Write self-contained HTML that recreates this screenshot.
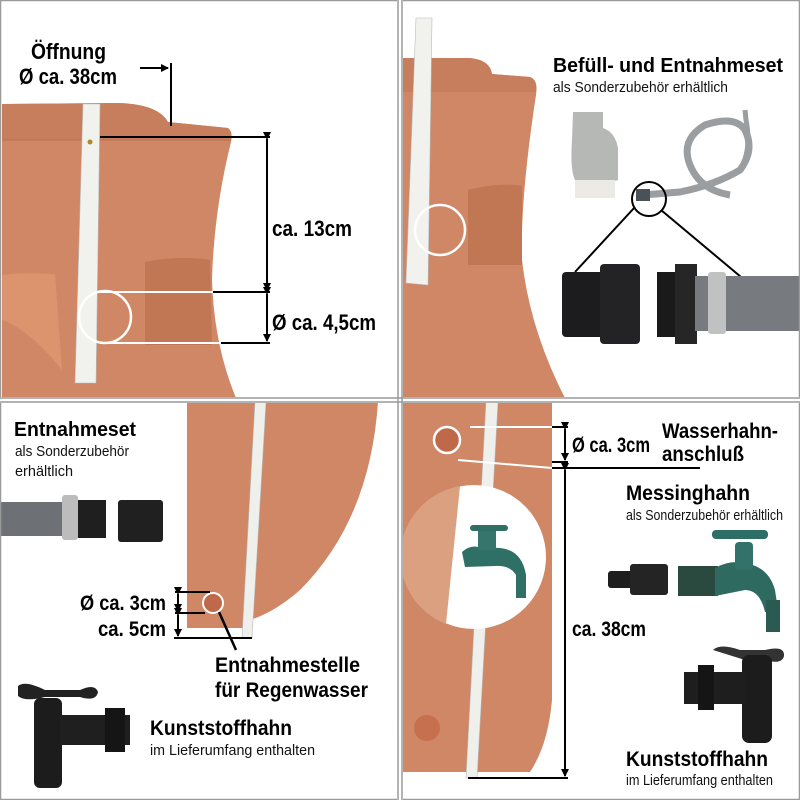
<!DOCTYPE html>
<html><head><meta charset="utf-8"><style>
html,body{margin:0;padding:0;background:#fff}
svg{display:block}
.b{font-family:"Liberation Sans Narrow","Liberation Sans",sans-serif;font-weight:bold;fill:#000}
.r{font-family:"Liberation Sans Narrow","Liberation Sans",sans-serif;fill:#111}
</style></head><body>
<svg width="800" height="800" viewBox="0 0 800 800" xmlns="http://www.w3.org/2000/svg">
<defs>
<marker id="ar" markerWidth="8" markerHeight="8" refX="7" refY="4" orient="auto" markerUnits="userSpaceOnUse"><path d="M0,0 L8,4 L0,8 z" fill="#000"/></marker>
</defs>
<rect width="800" height="800" fill="#fff"/>

<!-- ===== Q1 ===== -->
<path d="M2,104 L118,103 Q158,104 168,122 L228,128 Q233,132 231,142 Q214,210 212,280 Q214,345 236,398 L2,398 Z" fill="#cf8766"/>
<path d="M2,104 L118,103 Q158,104 168,122 L228,128 Q233,132 231,140 L2,140 Z" fill="#c77e5d"/>
<path d="M2,140 L231,140" stroke="#b87052" stroke-width="1"/>
<path d="M2,275 Q20,272 55,274 L62,370 Q30,330 2,320 Z" fill="#dc946f"/>
<path d="M145,262 Q180,255 210,260 L212,345 L145,345 Z" fill="#c17654"/>
<polygon points="83,104 100,104 96,383 75,383" fill="#f1f1ee" stroke="#bbb" stroke-width="0.6"/>
<circle cx="90" cy="142" r="2.5" fill="#b08a20"/>
<line x1="100" y1="137" x2="270" y2="137" stroke="#000" stroke-width="2"/>
<line x1="267" y1="139" x2="267" y2="290" stroke="#000" stroke-width="2" marker-start="url(#ar)" marker-end="url(#ar)"/>
<line x1="213" y1="292" x2="270" y2="292" stroke="#000" stroke-width="2"/>
<line x1="221" y1="343" x2="270" y2="343" stroke="#000" stroke-width="2"/>
<line x1="267" y1="294" x2="267" y2="341" stroke="#000" stroke-width="2" marker-start="url(#ar)" marker-end="url(#ar)"/>
<line x1="100" y1="292" x2="213" y2="292" stroke="#fff" stroke-width="2"/>
<line x1="100" y1="343" x2="221" y2="343" stroke="#fff" stroke-width="2"/>
<circle cx="105" cy="317" r="26" fill="none" stroke="#fff" stroke-width="2.5"/>
<text class="b" x="31" y="59" font-size="22" textLength="75" lengthAdjust="spacingAndGlyphs">Öffnung</text>
<text class="b" x="19" y="84" font-size="22" textLength="98" lengthAdjust="spacingAndGlyphs">Ø ca. 38cm</text>
<line x1="140" y1="68" x2="168" y2="68" stroke="#000" stroke-width="2" marker-end="url(#ar)"/>
<line x1="171" y1="63" x2="171" y2="126" stroke="#000" stroke-width="2"/>
<text class="b" x="272" y="236" font-size="22" textLength="80" lengthAdjust="spacingAndGlyphs">ca. 13cm</text>
<text class="b" x="272" y="330" font-size="22" textLength="104" lengthAdjust="spacingAndGlyphs">Ø ca. 4,5cm</text>

<!-- ===== Q2 ===== -->
<path d="M402,58 L470,58 Q490,60 492,74 L530,77 Q538,80 536,95 Q520,200 522,260 Q530,330 565,398 L402,398 Z" fill="#cf8766"/>
<path d="M402,58 L470,58 Q490,60 492,74 L530,77 Q538,80 536,92 L402,92 Z" fill="#c77e5d"/>
<path d="M468,190 Q500,182 522,186 L522,265 L468,265 Z" fill="#c17654"/>
<polygon points="416,18 432,18 428,285 406,283" fill="#f1f1ee" stroke="#bbb" stroke-width="0.6"/>
<circle cx="440" cy="230" r="25" fill="none" stroke="#fff" stroke-width="2.5"/>
<text class="b" x="553" y="72" font-size="20" textLength="230" lengthAdjust="spacingAndGlyphs">Befüll- und Entnahmeset</text>
<text class="r" x="553" y="92" font-size="15" textLength="175" lengthAdjust="spacingAndGlyphs">als Sonderzubehör erhältlich</text>
<!-- filter -->
<path d="M573,112 L603,112 L603,128 Q615,132 618,148 L618,180 L612,182 L612,198 L575,198 L575,180 Q570,170 572,140 Z" fill="#b5b8b5"/>
<rect x="575" y="180" width="40" height="18" fill="#eceae4"/>
<!-- hose -->
<path d="M643,195 L680,192 Q715,185 740,170 Q755,150 745,130 Q735,115 705,125 Q680,140 690,165 Q700,190 730,195" fill="none" stroke="#9a9ea0" stroke-width="7"/>
<path d="M740,170 Q752,150 746,120 L745,110" fill="none" stroke="#9a9ea0" stroke-width="5"/>
<rect x="636" y="189" width="14" height="12" fill="#4b5257"/>
<circle cx="649" cy="199" r="17" fill="none" stroke="#000" stroke-width="2"/>
<line x1="635" y1="207" x2="575" y2="272" stroke="#000" stroke-width="2"/>
<line x1="661" y1="210" x2="741" y2="277" stroke="#000" stroke-width="2"/>
<!-- connectors -->
<rect x="562" y="272" width="42" height="65" rx="4" fill="#1c1c1e"/>
<rect x="600" y="264" width="40" height="80" rx="4" fill="#232325"/>
<rect x="657" y="272" width="20" height="65" fill="#1a1a1a"/>
<rect x="675" y="264" width="22" height="80" fill="#262626"/>
<rect x="695" y="276" width="105" height="55" fill="#777b80"/>
<rect x="708" y="272" width="18" height="62" rx="3" fill="#bfc1c2"/>

<!-- ===== Q3 ===== -->
<path d="M187,402 L378,402 Q370,520 300,590 Q275,612 250,620 L250,628 L187,628 Z" fill="#cf8766"/>
<polygon points="255,402 266,402 252,638 242,638" fill="#efefec" stroke="#bbb" stroke-width="0.6"/>
<text class="b" x="14" y="436" font-size="20" textLength="122" lengthAdjust="spacingAndGlyphs">Entnahmeset</text>
<text class="r" x="15" y="456" font-size="15" textLength="114" lengthAdjust="spacingAndGlyphs">als Sonderzubehör</text>
<text class="r" x="15" y="476" font-size="15" textLength="58" lengthAdjust="spacingAndGlyphs">erhältlich</text>
<rect x="0" y="502" width="72" height="34" fill="#6d7176"/>
<rect x="62" y="495" width="16" height="45" rx="3" fill="#bcbcbc"/>
<rect x="78" y="500" width="28" height="38" fill="#1f1f1f"/>
<rect x="118" y="500" width="45" height="42" rx="3" fill="#202020"/>
<circle cx="213" cy="603" r="10" fill="#c0694a" stroke="#fff" stroke-width="2"/>
<line x1="175" y1="592" x2="210" y2="592" stroke="#000" stroke-width="2"/>
<line x1="175" y1="613" x2="205" y2="613" stroke="#000" stroke-width="2"/>
<line x1="174" y1="638" x2="252" y2="638" stroke="#000" stroke-width="2"/>
<line x1="178" y1="594" x2="178" y2="611" stroke="#000" stroke-width="2" marker-start="url(#ar)" marker-end="url(#ar)"/>
<line x1="178" y1="615" x2="178" y2="636" stroke="#000" stroke-width="2" marker-start="url(#ar)" marker-end="url(#ar)"/>
<line x1="219" y1="612" x2="236" y2="650" stroke="#000" stroke-width="2.5"/>
<text class="b" x="80" y="610" font-size="21" textLength="86" lengthAdjust="spacingAndGlyphs">Ø ca. 3cm</text>
<text class="b" x="98" y="636" font-size="21" textLength="68" lengthAdjust="spacingAndGlyphs">ca. 5cm</text>
<text class="b" x="215" y="672" font-size="21" textLength="145" lengthAdjust="spacingAndGlyphs">Entnahmestelle</text>
<text class="b" x="215" y="697" font-size="21" textLength="153" lengthAdjust="spacingAndGlyphs">für Regenwasser</text>
<!-- plastic tap -->
<path d="M18,686 Q25,680 45,690 L80,690 Q95,683 98,692 Q96,702 80,697 L45,697 Q25,702 18,696 Z" fill="#222"/>
<rect x="34" y="698" width="28" height="90" rx="6" fill="#1c1c1c"/>
<rect x="60" y="715" width="70" height="30" fill="#1f1f1f"/>
<rect x="105" y="708" width="20" height="44" fill="#151515"/>
<text class="b" x="150" y="735" font-size="21" textLength="142" lengthAdjust="spacingAndGlyphs">Kunststoffhahn</text>
<text class="r" x="150" y="755" font-size="15" textLength="165" lengthAdjust="spacingAndGlyphs">im Lieferumfang enthalten</text>

<!-- ===== Q4 ===== -->
<path d="M402,402 L552,402 L552,700 Q548,745 530,772 L402,772 Z" fill="#cf8766"/>
<polygon points="486,402 498,402 477,778 466,778" fill="#efefec" stroke="#bbb" stroke-width="0.6"/>
<circle cx="447" cy="440" r="13" fill="#c0694a" stroke="#fff" stroke-width="2.5"/>
<circle cx="427" cy="728" r="13" fill="#c6704e"/>
<!-- lens -->
<circle cx="474" cy="557" r="72" fill="#fff"/>
<path d="M460,486 A72,72 0 0,0 446,624 Z" fill="#dba080"/>
<path d="M462,552 Q470,545 478,547 L500,548 Q522,550 526,575 L526,598 L516,598 L516,575 Q510,565 495,566 L465,567 Z" fill="#2e7066"/>
<rect x="478" y="528" width="18" height="22" fill="#35756b"/>
<rect x="470" y="525" width="38" height="6" rx="3" fill="#2f6f66"/>
<path d="M430,410 L556,410" stroke="none"/>
<line x1="470" y1="427" x2="552" y2="427" stroke="#fff" stroke-width="2"/>
<line x1="458" y1="460" x2="552" y2="468" stroke="#fff" stroke-width="2"/>
<line x1="552" y1="427" x2="568" y2="427" stroke="#000" stroke-width="2"/>
<line x1="552" y1="462" x2="568" y2="462" stroke="#000" stroke-width="2"/>
<line x1="552" y1="468" x2="700" y2="468" stroke="#000" stroke-width="2"/>
<line x1="565" y1="429" x2="565" y2="460" stroke="#000" stroke-width="2" marker-start="url(#ar)" marker-end="url(#ar)"/>
<line x1="565" y1="470" x2="565" y2="776" stroke="#000" stroke-width="2" marker-start="url(#ar)" marker-end="url(#ar)"/>
<line x1="468" y1="778" x2="568" y2="778" stroke="#000" stroke-width="2"/>
<text class="b" x="572" y="452" font-size="21" textLength="78" lengthAdjust="spacingAndGlyphs">Ø ca. 3cm</text>
<text class="b" x="662" y="438" font-size="21" textLength="116" lengthAdjust="spacingAndGlyphs">Wasserhahn-</text>
<text class="b" x="662" y="461" font-size="21" textLength="82" lengthAdjust="spacingAndGlyphs">anschluß</text>
<text class="b" x="626" y="500" font-size="21" textLength="124" lengthAdjust="spacingAndGlyphs">Messinghahn</text>
<text class="r" x="626" y="520" font-size="15" textLength="157" lengthAdjust="spacingAndGlyphs">als Sonderzubehör erhältlich</text>
<text class="b" x="572" y="636" font-size="21" textLength="74" lengthAdjust="spacingAndGlyphs">ca. 38cm</text>
<!-- brass tap -->
<rect x="608" y="571" width="26" height="17" rx="3" fill="#1e1e1e"/>
<rect x="630" y="564" width="38" height="31" rx="3" fill="#242424"/>
<rect x="678" y="566" width="40" height="30" fill="#2a4a40"/>
<path d="M715,568 Q730,560 742,563 Q768,565 775,590 L778,610 L765,612 Q760,590 745,590 L715,596 Z" fill="#2f6a60"/>
<rect x="766" y="600" width="14" height="32" fill="#2a5a52"/>
<rect x="735" y="542" width="18" height="28" rx="4" fill="#33726a"/>
<rect x="712" y="530" width="56" height="9" rx="4" fill="#2d6e66"/>
<!-- plastic tap Q4 -->
<path d="M713,650 Q720,643 740,650 L765,650 Q785,645 784,656 Q782,665 765,660 L745,660 Z" fill="#333"/>
<rect x="742" y="655" width="30" height="88" rx="7" fill="#1c1c1c"/>
<rect x="684" y="672" width="62" height="32" fill="#1e1e1e"/>
<rect x="698" y="665" width="16" height="45" fill="#151515"/>
<text class="b" x="626" y="766" font-size="21" textLength="142" lengthAdjust="spacingAndGlyphs">Kunststoffhahn</text>
<text class="r" x="626" y="785" font-size="15" textLength="147" lengthAdjust="spacingAndGlyphs">im Lieferumfang enthalten</text>

<!-- grid frame -->
<rect x="0.5" y="0.5" width="799" height="799" fill="none" stroke="#9a9a9a" stroke-width="1.5"/>
<rect x="397" y="0" width="6" height="800" fill="#fff"/>
<rect x="0" y="397" width="800" height="6" fill="#fff"/>
<line x1="398" y1="0" x2="398" y2="800" stroke="#9a9a9a" stroke-width="1.5"/>
<line x1="402" y1="0" x2="402" y2="800" stroke="#9a9a9a" stroke-width="1.5"/>
<line x1="0" y1="398" x2="800" y2="398" stroke="#9a9a9a" stroke-width="1.5"/>
<line x1="0" y1="402" x2="800" y2="402" stroke="#9a9a9a" stroke-width="1.5"/>
</svg>
</body></html>
